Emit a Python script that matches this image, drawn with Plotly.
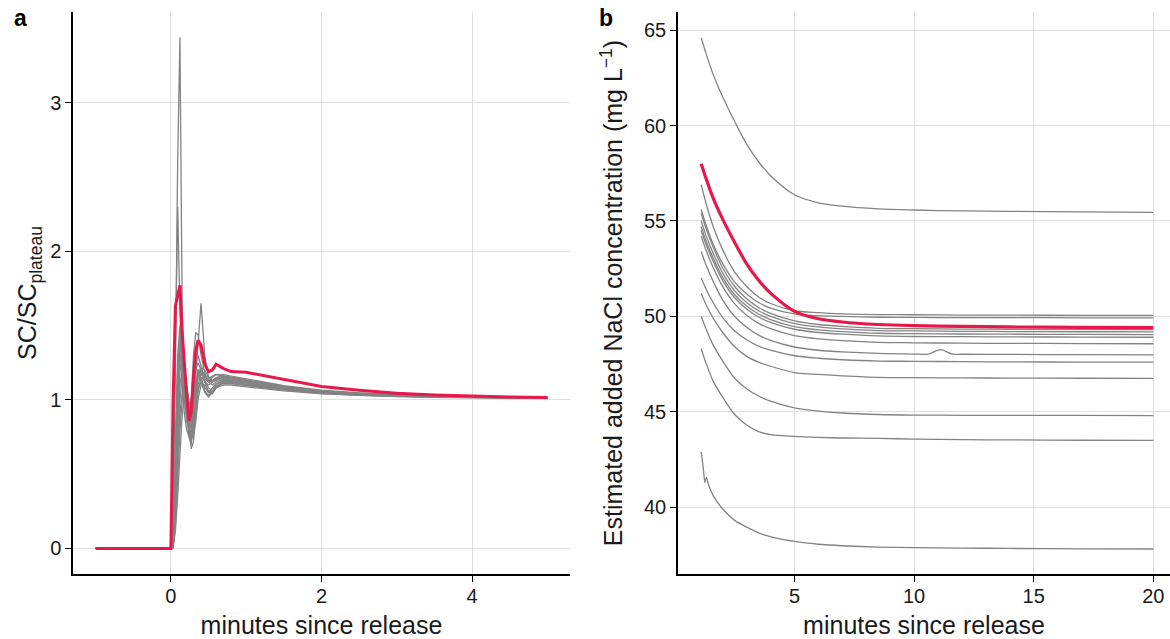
import plotly.graph_objects as go

# ---------------- Panel a data (SC / SC_plateau) ----------------
XA = [-1.0, 0.0, 0.03, 0.06, 0.09, 0.12, 0.15, 0.18, 0.21, 0.24, 0.27, 0.30, 0.33, 0.36,
      0.40, 0.45, 0.50, 0.55, 0.60, 0.70, 0.80, 1.0, 1.25, 1.5, 2.0, 2.5, 3.0, 3.5, 4.0, 4.5, 5.0]

a_red = [0, 0, 1.0, 1.63, 1.70, 1.77, 1.45, 1.20, 1.03, 0.86, 0.92, 1.15, 1.33, 1.40,
         1.37, 1.24, 1.19, 1.20, 1.24, 1.21, 1.19, 1.185, 1.16, 1.135, 1.09, 1.065, 1.045, 1.033, 1.025, 1.019, 1.016]

a_g1 = [0, 0, 0.3, 1.2, 2.6, 3.44, 1.6, 1.1, 0.95, 0.9, 1.0, 1.1, 1.2, 1.2,
        1.18, 1.15, 1.14, 1.16, 1.17, 1.16, 1.15, 1.13, 1.11, 1.09, 1.06, 1.045, 1.035, 1.027, 1.021, 1.018, 1.016]
a_g2 = [0, 0, 0.4, 1.3, 2.3, 1.6, 1.1, 0.9, 0.8, 0.75, 0.8, 0.95, 1.1, 1.2,
        1.2, 1.17, 1.13, 1.12, 1.14, 1.15, 1.14, 1.12, 1.10, 1.08, 1.055, 1.04, 1.03, 1.024, 1.019, 1.016, 1.014]
a_g3 = [0, 0, 0.1, 0.6, 1.2, 1.45, 1.3, 1.0, 0.85, 0.8, 0.78, 0.95, 1.15, 1.35,
        1.65, 1.3, 1.15, 1.13, 1.14, 1.15, 1.14, 1.12, 1.10, 1.08, 1.055, 1.04, 1.03, 1.024, 1.019, 1.016, 1.014]
a_g4 = [0, 0, 0.05, 0.5, 1.0, 1.3, 1.25, 1.05, 0.9, 0.85, 1.0, 1.3, 1.45, 1.44,
        1.3, 1.18, 1.12, 1.1, 1.12, 1.14, 1.13, 1.11, 1.09, 1.075, 1.05, 1.037, 1.028, 1.022, 1.018, 1.015, 1.013]
a_g5 = [0, 0, 0.05, 0.3, 0.7, 1.1, 1.2, 1.1, 0.9, 0.75, 0.7, 0.9, 1.1, 1.2,
        1.15, 1.08, 1.05, 1.08, 1.11, 1.13, 1.12, 1.10, 1.085, 1.07, 1.045, 1.032, 1.024, 1.019, 1.016, 1.013, 1.012]
a_g6 = [0, 0, 0.02, 0.2, 0.55, 0.9, 1.05, 1.1, 1.0, 0.85, 0.67, 0.72, 0.95, 1.1,
        1.18, 1.12, 1.05, 1.04, 1.08, 1.12, 1.12, 1.105, 1.09, 1.075, 1.05, 1.036, 1.027, 1.021, 1.017, 1.014, 1.012]
a_g7 = [0, 0, 0.1, 0.8, 1.3, 1.5, 1.35, 1.15, 0.95, 0.8, 0.75, 0.85, 1.0, 1.15,
        1.22, 1.2, 1.15, 1.12, 1.13, 1.15, 1.15, 1.13, 1.11, 1.09, 1.06, 1.043, 1.032, 1.025, 1.02, 1.017, 1.015]
a_g8 = [0, 0, 0.03, 0.4, 0.9, 1.2, 1.3, 1.2, 1.0, 0.9, 0.85, 0.95, 1.1, 1.18,
        1.14, 1.06, 1.03, 1.06, 1.1, 1.13, 1.13, 1.115, 1.1, 1.08, 1.055, 1.04, 1.03, 1.023, 1.018, 1.015, 1.013]
a_g9 = [0, 0, 0.0, 0.15, 0.45, 0.8, 1.0, 1.1, 1.05, 0.95, 0.85, 0.8, 0.9, 1.05,
        1.15, 1.13, 1.08, 1.06, 1.09, 1.12, 1.12, 1.10, 1.085, 1.07, 1.047, 1.034, 1.026, 1.02, 1.016, 1.013, 1.011]
a_g10 = [0, 0, 0.05, 0.5, 1.05, 1.35, 1.3, 1.1, 0.92, 0.82, 0.9, 1.05, 1.2, 1.25,
         1.2, 1.12, 1.1, 1.12, 1.15, 1.16, 1.15, 1.13, 1.11, 1.09, 1.06, 1.044, 1.033, 1.026, 1.021, 1.017, 1.015]
a_g11 = [0, 0, 0.02, 0.25, 0.65, 1.0, 1.15, 1.15, 1.0, 0.8, 0.72, 0.78, 0.95, 1.08,
         1.12, 1.05, 1.02, 1.05, 1.09, 1.11, 1.11, 1.095, 1.08, 1.065, 1.043, 1.031, 1.023, 1.018, 1.015, 1.012, 1.01]
a_g12 = [0, 0, 0.08, 0.7, 1.2, 1.4, 1.2, 1.0, 0.88, 0.84, 0.92, 1.1, 1.25, 1.3,
         1.22, 1.14, 1.12, 1.15, 1.17, 1.17, 1.16, 1.14, 1.115, 1.095, 1.065, 1.047, 1.035, 1.027, 1.022, 1.018, 1.016]
a_g13 = [0, 0, 0.01, 0.12, 0.35, 0.65, 0.9, 1.05, 1.1, 1.0, 0.85, 0.75, 0.85, 1.0,
         1.1, 1.1, 1.06, 1.05, 1.08, 1.1, 1.1, 1.09, 1.075, 1.06, 1.04, 1.029, 1.022, 1.017, 1.014, 1.011, 1.01]
a_g14 = [0, 0, 0.04, 0.45, 0.95, 1.25, 1.35, 1.25, 1.05, 0.88, 0.8, 0.88, 1.05, 1.15,
         1.2, 1.16, 1.12, 1.13, 1.15, 1.16, 1.15, 1.13, 1.105, 1.085, 1.058, 1.042, 1.031, 1.024, 1.019, 1.016, 1.014]

a_grays = [a_g1, a_g2, a_g3, a_g4, a_g5, a_g6, a_g7, a_g8, a_g9, a_g10, a_g11, a_g12, a_g13, a_g14]

# ---------------- Panel b data (estimated added NaCl, mg/L) ----------------
XB = [1.1, 1.3, 1.6, 2.0, 2.5, 3.0, 3.5, 4.0, 5.0, 6.0, 7.0, 8.5, 10, 12, 14, 17, 20]

b_red = [58.00, 57.23, 56.19, 55.08, 53.87, 52.75, 51.89, 51.21, 50.26, 49.87, 49.70, 49.57, 49.51, 49.47, 49.44, 49.42, 49.40]

b_top = [64.60, 63.78, 62.68, 61.49, 60.21, 59.02, 58.10, 57.37, 56.37, 55.95, 55.77, 55.63, 55.57, 55.52, 55.50, 55.47, 55.45]
b_g1 = [56.90, 55.94, 54.71, 53.48, 52.31, 51.56, 51.01, 50.67, 50.29, 50.19, 50.13, 50.09, 50.08, 50.06, 50.06, 50.05, 50.05]
b_g2 = [55.60, 54.80, 53.78, 52.76, 51.79, 51.17, 50.72, 50.43, 50.12, 50.03, 49.99, 49.95, 49.94, 49.93, 49.93, 49.92, 49.92]
b_g3 = [55.40, 54.61, 53.63, 52.53, 51.56, 50.92, 50.46, 50.15, 49.76, 49.57, 49.47, 49.37, 49.35, 49.33, 49.32, 49.31, 49.30]
b_g4 = [55.00, 54.24, 53.31, 52.26, 51.33, 50.72, 50.29, 49.99, 49.62, 49.44, 49.34, 49.25, 49.23, 49.21, 49.20, 49.19, 49.18]
b_g5 = [54.70, 53.96, 53.06, 52.04, 51.13, 50.54, 50.12, 49.83, 49.46, 49.29, 49.20, 49.11, 49.09, 49.07, 49.06, 49.05, 49.04]
b_g6 = [54.50, 53.77, 52.88, 51.87, 50.97, 50.38, 49.96, 49.68, 49.32, 49.15, 49.06, 48.97, 48.94, 48.93, 48.92, 48.91, 48.90]
b_g7 = [54.20, 53.47, 52.56, 51.55, 50.65, 50.05, 49.63, 49.35, 48.98, 48.81, 48.72, 48.63, 48.61, 48.59, 48.58, 48.57, 48.56]
b_g9 = [52.00, 51.43, 50.72, 49.93, 49.23, 48.77, 48.44, 48.22, 47.93, 47.80, 47.72, 47.65, 47.64, 47.62, 47.61, 47.60, 47.60]
b_g10 = [51.20, 50.62, 49.90, 49.15, 48.40, 47.90, 47.60, 47.38, 47.05, 46.95, 46.88, 46.80, 46.78, 46.77, 46.76, 46.75, 46.74]
b_g11 = [50.00, 49.35, 48.50, 47.65, 46.75, 46.20, 45.82, 45.55, 45.20, 45.03, 44.93, 44.85, 44.82, 44.81, 44.80, 44.80, 44.79]
b_g12 = [48.30, 47.55, 46.60, 45.75, 44.85, 44.30, 43.95, 43.80, 43.70, 43.65, 43.62, 43.60, 43.56, 43.53, 43.52, 43.50, 43.49]

# line with a small bump near 11 min
XB8 = [1.1, 1.3, 1.6, 2.0, 2.5, 3.0, 3.5, 4.0, 5.0, 6.0, 7.0, 8.5, 10, 10.6, 11.1, 11.6, 12, 14, 17, 20]
b_g8 = [53.40, 52.70, 51.83, 50.85, 49.99, 49.42, 49.01, 48.74, 48.39, 48.22, 48.13, 48.05, 48.02, 48.02, 48.25, 48.02, 48.01, 48.00, 47.99, 47.98]

# lowest line
XBL = [1.1, 1.2, 1.25, 1.32, 1.4, 1.6, 2.0, 2.5, 3.0, 3.7, 4.5, 5.0, 6.0, 7.0, 8.5, 10, 12, 14, 17, 20]
b_low = [42.9, 41.9, 41.3, 41.55, 41.2, 40.6, 39.9, 39.3, 38.95, 38.55, 38.3, 38.2, 38.05, 37.97, 37.9, 37.87, 37.85, 37.83, 37.81, 37.8]

b_grays_common = [b_top, b_g1, b_g2, b_g3, b_g4, b_g5, b_g6, b_g7, b_g9, b_g10, b_g11, b_g12]

GRAY = "#838383"
RED = "#E8184A"
FONT = "Liberation Sans, Arial, Helvetica, sans-serif"

fig = go.Figure()

for g in a_grays:
    fig.add_trace(go.Scatter(x=XA, y=g, mode="lines", line=dict(color=GRAY, width=1.3),
                             xaxis="x", yaxis="y", showlegend=False, hoverinfo="skip"))
fig.add_trace(go.Scatter(x=XA, y=a_red, mode="lines", line=dict(color=RED, width=3),
                         xaxis="x", yaxis="y", showlegend=False))

for g in b_grays_common:
    fig.add_trace(go.Scatter(x=XB, y=g, mode="lines", line=dict(color=GRAY, width=1.3, shape="spline", smoothing=0.8),
                             xaxis="x2", yaxis="y2", showlegend=False, hoverinfo="skip"))
fig.add_trace(go.Scatter(x=XB8, y=b_g8, mode="lines", line=dict(color=GRAY, width=1.3, shape="spline", smoothing=0.8),
                         xaxis="x2", yaxis="y2", showlegend=False, hoverinfo="skip"))
fig.add_trace(go.Scatter(x=XBL, y=b_low, mode="lines", line=dict(color=GRAY, width=1.3, shape="spline", smoothing=0.6),
                         xaxis="x2", yaxis="y2", showlegend=False, hoverinfo="skip"))
fig.add_trace(go.Scatter(x=XB, y=b_red, mode="lines", line=dict(color=RED, width=3.2, shape="spline", smoothing=0.8),
                         xaxis="x2", yaxis="y2", showlegend=False))

W, H = 1170, 639
ydom = [1 - 574 / H, 1 - 12 / H]

axis_common = dict(showline=True, linecolor="black", linewidth=1.5, ticks="outside", ticklen=6,
                   tickwidth=1.2, tickcolor="black", showgrid=True, gridcolor="#E0E0E0", gridwidth=1.1,
                   zeroline=False, tickfont=dict(family=FONT, size=20, color="#1a1a1a"),
                   automargin=False, mirror=False)
TITLE_FONT = dict(family=FONT, size=25, color="#1a1a1a")

fig.update_layout(
    width=W, height=H,
    margin=dict(l=0, r=0, t=0, b=0),
    paper_bgcolor="white", plot_bgcolor="white",
    font=dict(family=FONT, color="#1a1a1a"),
    xaxis=dict(domain=[73 / W, 570 / W], range=[-1.3, 5.3], tickvals=[0, 2, 4], anchor="y",
               ticklabelstandoff=-3,
               title=dict(text="minutes since release", font=TITLE_FONT, standoff=12),
               **axis_common),
    yaxis=dict(domain=ydom, range=[-0.172, 3.61], tickvals=[0, 1, 2, 3], anchor="x",
               title=dict(text="SC/SC<sub>plateau</sub>", font=TITLE_FONT, standoff=6),
               **axis_common),
    xaxis2=dict(domain=[678 / W, 1.0], range=[0.13, 20.7], tickvals=[5, 10, 15, 20], anchor="y2",
                ticklabelstandoff=-3,
                title=dict(text="minutes since release", font=TITLE_FONT, standoff=12),
                **axis_common),
    yaxis2=dict(domain=ydom, range=[36.49, 65.95], tickvals=[40, 45, 50, 55, 60, 65], anchor="x2",
                title=dict(text="Estimated added NaCl concentration (mg L<sup>\u22121</sup>)",
                           font=TITLE_FONT, standoff=14),
                **axis_common),
    annotations=[
        dict(text="<b>a</b>", x=12 / W, y=1 - 18 / H, xref="paper", yref="paper", showarrow=False,
             xanchor="left", yanchor="middle", font=dict(family=FONT, size=23, color="black")),
        dict(text="<b>b</b>", x=597 / W, y=1 - 18 / H, xref="paper", yref="paper", showarrow=False,
             xanchor="left", yanchor="middle", font=dict(family=FONT, size=23, color="black")),
    ],
)

fig.write_html("out.html", config={"displayModeBar": False},
               post_script="document.body.style.margin='0';document.body.style.overflow='hidden';")
